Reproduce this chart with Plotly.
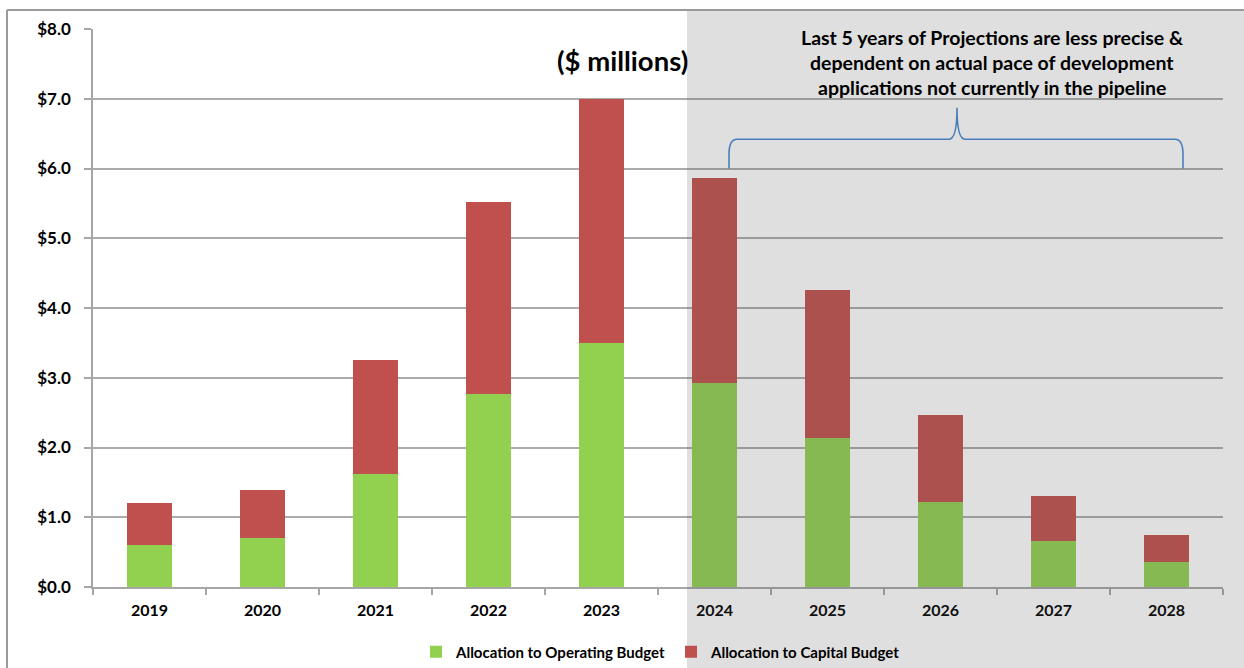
import plotly.graph_objects as go

# Annual allocation, $ millions
years = ["2019", "2020", "2021", "2022", "2023", "2024", "2025", "2026", "2027", "2028"]
operating = [0.60, 0.70, 1.62, 2.77, 3.50, 2.93, 2.13, 1.22, 0.66, 0.36]
capital = [0.61, 0.69, 1.63, 2.75, 3.49, 2.94, 2.13, 1.24, 0.64, 0.38]
y_ticks = [0, 1, 2, 3, 4, 5, 6, 7, 8]

note_lines = [
    "Last 5 years of Projections are less precise &",
    "dependent on actual pace of development",
    "applications not currently in the pipeline",
]

FONT = "Lato"
W, H = 1244, 668
L, R, T, B = 93, 21, 29, 81
PW, PH = W - L - R, H - T - B


def px(x):
    return (x - L) / PW


def py(y):
    return (H - B - y) / PH


fig = go.Figure()
fig.add_trace(go.Bar(x=years, y=operating, name="<b>Allocation to Operating Budget</b>",
                     marker=dict(color="#92D050", line=dict(width=0))))
fig.add_trace(go.Bar(x=years, y=capital, name="<b>Allocation to Capital Budget</b>",
                     marker=dict(color="#C0504D", line=dict(width=0))))

shapes = []
# shaded projection zone
shapes.append(dict(type="rect", xref="paper", yref="paper",
                   x0=px(687), x1=px(W + 5), y0=py(H + 5), y1=py(10),
                   fillcolor="rgba(83,83,83,0.19)", line=dict(width=0), layer="above"))
# outer frame
shapes.append(dict(type="line", xref="paper", yref="paper",
                   x0=px(7), x1=px(W + 5), y0=py(10), y1=py(10),
                   line=dict(color="#9A9A9A", width=2), layer="above"))
shapes.append(dict(type="line", xref="paper", yref="paper",
                   x0=px(7), x1=px(7), y0=py(10), y1=py(H + 5),
                   line=dict(color="#9A9A9A", width=2), layer="above"))

# curly brace over the projection years
xl, xt, xr = px(729), px(957), px(1183)
d = 0.007
yb, yf, yt = 6.0, 6.42, 6.87
path = (f"M {xl},{yb} L {xl},{yb + 0.2} Q {xl},{yf} {xl + d},{yf} "
        f"L {xt - d},{yf} Q {xt},{yf} {xt},{yt} Q {xt},{yf} {xt + d},{yf} "
        f"L {xr - d},{yf} Q {xr},{yf} {xr},{yb + 0.2} L {xr},{yb}")
shapes.append(dict(type="path", xref="paper", yref="y", path=path,
                   line=dict(color="#4A7EBB", width=1.6), layer="above"))

annotations = [dict(text="<b>($ millions)</b>", xref="paper", yref="paper",
                    x=px(622), y=py(60), xanchor="center", yanchor="middle",
                    showarrow=False,
                    font=dict(family=FONT, size=27.5, color="#000000"))]
for i, line in enumerate(note_lines):
    annotations.append(dict(text=f"<b>{line}</b>", xref="paper", yref="paper",
                            x=px(992), y=py(38 + 24.5 * i), xanchor="center",
                            yanchor="middle", showarrow=False,
                            font=dict(family=FONT, size=19.5, color="#000000")))

fig.update_layout(
    width=W, height=H,
    margin=dict(l=L, r=R, t=T, b=B, autoexpand=False),
    barmode="stack", bargap=0.6,
    plot_bgcolor="white", paper_bgcolor="white",
    font=dict(family=FONT, color="#000000"),
    shapes=shapes, annotations=annotations,
    legend=dict(orientation="h", xref="container", yref="container",
                x=661 / W, xanchor="center", y=(H - 652) / H, yanchor="middle",
                font=dict(family=FONT, size=15, color="#000000"),
                bgcolor="rgba(0,0,0,0)", itemwidth=30, traceorder="normal"),
    showlegend=True,
)
fig.update_xaxes(type="category", showline=True, linecolor="#A6A6A6", linewidth=1.5,
                 ticks="outside", tickson="boundaries", ticklen=6, tickcolor="#A6A6A6",
                 tickwidth=1.5, showgrid=False, automargin=False,
                 tickfont=dict(family=FONT, size=16, color="#000000"),
                 tickprefix="<b>", ticksuffix="</b>", ticklabelstandoff=8)
fig.update_yaxes(range=[0, 8], tickvals=y_ticks, ticktext=[f"<b>${v:.1f}</b>" for v in y_ticks],
                 showline=True, linecolor="#A6A6A6", linewidth=1.5, automargin=False,
                 ticks="outside", ticklen=7, tickcolor="#A6A6A6", tickwidth=1.5,
                 showgrid=True, gridcolor="#ABABAB", gridwidth=1.5, zeroline=False,
                 tickfont=dict(family=FONT, size=17, color="#000000"), ticklabelstandoff=10)

fig.write_html("out.html")
